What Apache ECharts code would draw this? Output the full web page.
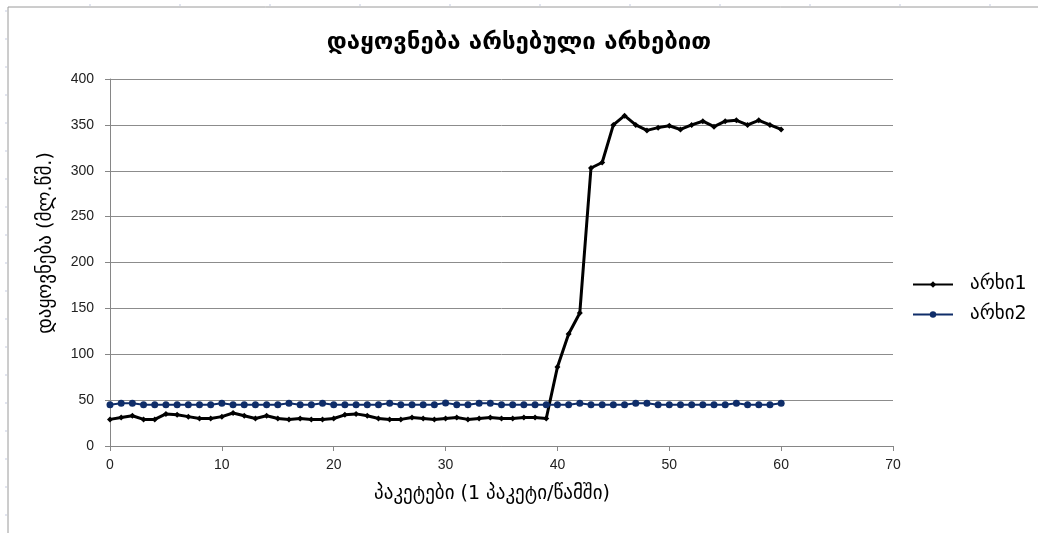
<!DOCTYPE html>
<html>
<head>
<meta charset="utf-8">
<script src="https://cdn.jsdelivr.net/npm/echarts@6/dist/echarts.min.js"></script>
<style>
  html, body { margin: 0; padding: 0; background: #fff; }
  #chart { width: 1038px; height: 533px; }
</style>
</head>
<body>
<div id="chart"></div>
<script>
// Packet index (1 packet per second)
const packets = [0,1,2,3,4,5,6,7,8,9,10,11,12,13,14,15,16,17,18,19,20,
  21,22,23,24,25,26,27,28,29,30,31,32,33,34,35,36,37,38,39,40,
  41,42,43,44,45,46,47,48,49,50,51,52,53,54,55,56,57,58,59,60];

// Delay on channel 1 (ms)
const channel1 = [29,31,33,29,29,35,34,32,30,30,32,36,33,30,33,30,29,30,29,29,30,
  34,35,33,30,29,29,31,30,29,30,31,29,30,31,30,30,31,31,30,86,
  122,145,303,309,350,360,350,344,347,349,345,350,354,348,354,355,350,355,350,345];

// Delay on channel 2 (ms)
const channel2 = [45,46.5,46.5,45,45,45,45,45,45,45,46.5,45,45,45,45,45,46.5,45,45,46.5,45,
  45,45,45,45,46.5,45,45,45,45,47,45,45,46.5,46.5,45,45,45,45,45,45,
  45,46.5,45,45,45,45,46.5,46.5,45,45,45,45,45,45,45,46.5,45,45,45,46.5];

const seriesNames = ['არხი1', 'არხი2'];
const xTicks = { min: 0, max: 70, interval: 10 };
const yTicks = { min: 0, max: 400, interval: 50 };

const titleText = 'დაყოვნება არსებული არხებით';
const xAxisTitle = 'პაკეტები (1 პაკეტი/წამში)';
const yAxisTitle = 'დაყოვნება (მლ.წმ.)';

const geoFont = '"DejaVu Sans", sans-serif';
const numFont = '"Liberation Sans", Arial, sans-serif';

const chart = echarts.init(document.getElementById('chart'), null, { renderer: 'canvas' });

// sheet frame and its small cell stubs
const frameGraphics = [
  { type: 'line', shape: { x1: 8, y1: 7, x2: 1038, y2: 7 }, style: { stroke: '#9a9a9a', lineWidth: 1 }, silent: true },
  { type: 'line', shape: { x1: 8, y1: 7, x2: 8, y2: 533 }, style: { stroke: '#9a9a9a', lineWidth: 1 }, silent: true }
];
for (let x = 90; x < 1038; x += 90) {
  frameGraphics.push({ type: 'line', shape: { x1: x, y1: 4, x2: x, y2: 6 }, style: { stroke: '#c5cbe0', lineWidth: 1 }, silent: true });
}
for (let y = 11; y < 533; y += 28) {
  frameGraphics.push({ type: 'line', shape: { x1: 5, y1: y, x2: 7, y2: y }, style: { stroke: '#c5cbe0', lineWidth: 1 }, silent: true });
}

// axis titles
frameGraphics.push({
  type: 'text', x: 492, y: 494, silent: true,
  style: { text: xAxisTitle, font: '19px ' + geoFont, fill: '#000', textAlign: 'center', textVerticalAlign: 'middle' }
});
frameGraphics.push({
  type: 'text', x: 46, y: 243, rotation: Math.PI / 2, silent: true,
  style: { text: yAxisTitle, font: '19px ' + geoFont, fill: '#000', textAlign: 'center', textVerticalAlign: 'middle' }
});

chart.setOption({
  backgroundColor: '#ffffff',
  animation: false,
  title: {
    text: titleText,
    left: 'center',
    top: 26,
    textStyle: { fontFamily: geoFont, fontSize: 24, fontWeight: 'bold', color: '#000' }
  },
  legend: {
    orient: 'vertical',
    left: 907,
    top: 270,
    itemWidth: 40,
    itemHeight: 8,
    itemGap: 11,
    data: seriesNames,
    textStyle: { fontFamily: geoFont, fontSize: 19, color: '#000', padding: [0, 0, 0, 12] }
  },
  grid: { left: 110, right: 145, top: 79, bottom: 87 },
  xAxis: {
    type: 'value',
    min: xTicks.min,
    max: xTicks.max,
    interval: xTicks.interval,
    axisLine: { show: true, lineStyle: { color: '#868686', width: 1 } },
    axisTick: { show: true, length: 5, lineStyle: { color: '#868686' } },
    axisLabel: { fontFamily: numFont, fontSize: 14, color: '#222', margin: 12 },
    splitLine: { show: false }
  },
  yAxis: {
    type: 'value',
    min: yTicks.min,
    max: yTicks.max,
    interval: yTicks.interval,
    axisLine: { show: true, lineStyle: { color: '#868686', width: 1 } },
    axisTick: { show: true, length: 5, lineStyle: { color: '#868686' } },
    axisLabel: { fontFamily: numFont, fontSize: 14, color: '#222', margin: 16 },
    splitLine: { show: true, lineStyle: { color: '#8c8c8c', width: 1 } }
  },
  graphic: frameGraphics,
  series: [
    {
      name: seriesNames[0],
      type: 'line',
      data: packets.map((p, i) => [p, channel1[i]]),
      symbol: 'diamond',
      symbolSize: 6,
      showAllSymbol: true,
      lineStyle: { color: '#000', width: 3 },
      itemStyle: { color: '#000' }
    },
    {
      name: seriesNames[1],
      type: 'line',
      data: packets.map((p, i) => [p, channel2[i]]),
      symbol: 'circle',
      symbolSize: 7,
      showAllSymbol: true,
      lineStyle: { color: '#0f2d69', width: 2 },
      itemStyle: { color: '#0f2d69' }
    }
  ]
});
</script>
</body>
</html>
